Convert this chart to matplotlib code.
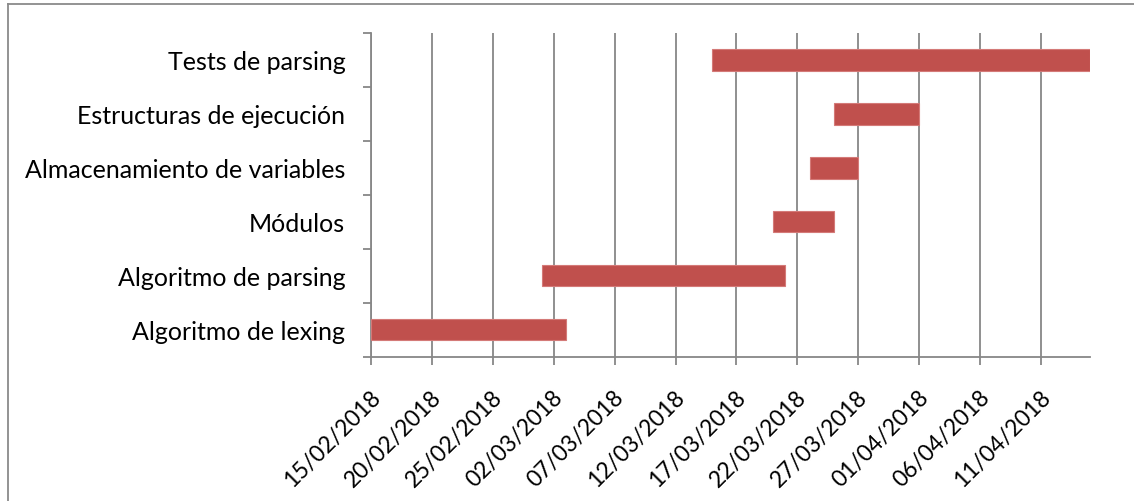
import datetime as dt
import matplotlib
matplotlib.use("Agg")
import matplotlib.pyplot as plt
import matplotlib.dates as mdates
import matplotlib.transforms as mtransforms
from matplotlib.lines import Line2D

plt.rcParams['font.family'] = ['Lato', 'DejaVu Sans']

# Tasks (bottom to top) with start and end dates
tasks = ["Algoritmo de lexing", "Algoritmo de parsing", "Módulos",
         "Almacenamiento de variables", "Estructuras de ejecución",
         "Tests de parsing"]
starts = ["2018-02-15", "2018-03-01", "2018-03-20",
          "2018-03-23", "2018-03-25", "2018-03-15"]
ends = ["2018-03-03", "2018-03-21", "2018-03-25",
        "2018-03-27", "2018-04-01", "2018-04-15"]

axis_start = "2018-02-15"
axis_end = "2018-04-15"
tick_step_days = 5

def to_num(s):
    return mdates.date2num(dt.datetime.strptime(s, "%Y-%m-%d"))

W, H = 1134, 502
fig = plt.figure(figsize=(W / 100, H / 100), dpi=100)
ax = fig.add_axes([371 / W, 1 - 357.5 / H, (1089.7 - 371) / W, (357.5 - 34) / H])

grid_col = "#878787"
bar_col = "#C0504D"

s_num = [to_num(s) for s in starts]
e_num = [to_num(e) for e in ends]
widths = [e - s for s, e in zip(s_num, e_num)]
ax.barh(range(len(tasks)), widths, left=s_num, height=0.4,
        color=bar_col, edgecolor="#D47A78", linewidth=0.8, zorder=3)

x0, x1 = to_num(axis_start), to_num(axis_end)
ax.set_xlim(x0, x1)
ax.set_ylim(-0.5, len(tasks) - 0.5)

ticks = []
t = x0
while t < x1:
    ticks.append(t)
    t += tick_step_days
ax.set_xticks(ticks)
ax.set_xticklabels([mdates.num2date(v).strftime("%d/%m/%Y") for v in ticks],
                   rotation=45, ha="right", va="top", rotation_mode="anchor",
                   fontsize=16.5)
ax.tick_params(axis="x", length=6, width=1.3, color=grid_col, pad=15)
shift = mtransforms.ScaledTranslation(-1 / 72, 0, fig.dpi_scale_trans)
for lbl in ax.get_xticklabels():
    lbl.set_transform(lbl.get_transform() + shift)

# category labels centred, ticks on category boundaries
ax.set_yticks([i - 0.5 for i in range(len(tasks) + 1)])
ax.set_yticklabels([])
ax.set_yticks(range(len(tasks)), minor=True)
ax.set_yticklabels(tasks, minor=True, fontsize=18)
ax.tick_params(axis="y", which="major", length=6, width=1.3, color=grid_col)
ax.tick_params(axis="y", which="minor", length=0, pad=18.5)

ax.grid(axis="x", color=grid_col, linewidth=1.3, zorder=0)
ax.set_axisbelow(True)
for side in ("top", "right"):
    ax.spines[side].set_visible(False)
for side in ("left", "bottom"):
    ax.spines[side].set_color(grid_col)
    ax.spines[side].set_linewidth(1.3)

# outer frame on the left and top edges
fig.add_artist(Line2D([7.5 / W, 7.5 / W], [0, 1 - 4.5 / H], color="#8a8a8a",
                      linewidth=1.3, transform=fig.transFigure))
fig.add_artist(Line2D([7.5 / W, 1], [1 - 4.5 / H, 1 - 4.5 / H], color="#8a8a8a",
                      linewidth=1.3, transform=fig.transFigure))

fig.savefig("out.png", dpi=100, facecolor="white")
